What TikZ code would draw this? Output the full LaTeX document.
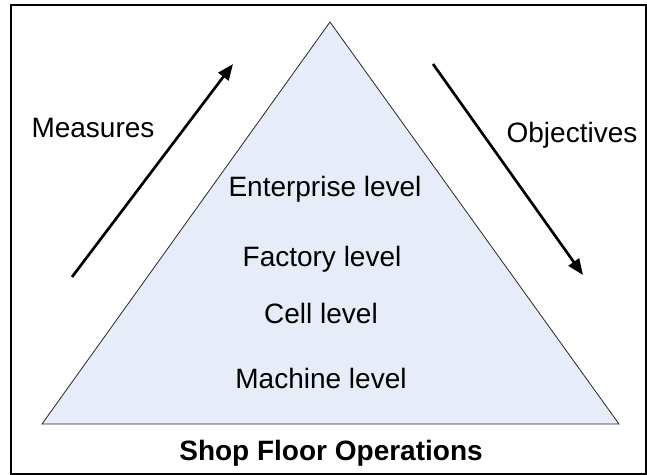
\documentclass[tikz,border=0pt]{standalone}
\usepackage{fontspec}
\setmainfont{Liberation Sans}
\usetikzlibrary{arrows.meta}
\definecolor{pyramidfill}{RGB}{230,237,248}
\begin{document}
\begin{tikzpicture}[x=0.75pt,y=0.75pt,yscale=-1,xscale=1,
    lbl/.style={anchor=base,inner sep=0pt,font=\fontsize{21}{25}\selectfont},
    flow/.style={line width=2pt,-{Triangle[length=12pt,width=9.5pt]}}]
                  \useasboundingbox (0,0) rectangle (647,475);
                  \draw[line width=1pt] (11,5) -- (646,5) -- (646,474) -- (11,474) -- cycle ;
                  \coordinate (apex) at (330,22);
                  \coordinate (baseL) at (42,424);
                  \coordinate (baseR) at (619,424);
                  \draw[fill=pyramidfill,draw=black!85,line width=0.6pt] (apex) -- (baseR) -- (baseL) -- cycle ;

                  \draw (325,196) node[lbl] (enterprise) {Enterprise level};
                  \draw (322,266) node[lbl] (factory) {Factory level};
                  \draw (321,323) node[lbl] (cell) {Cell level};
                  \draw (321,388) node[lbl] (machine) {Machine level};
                  \draw (331,460) node[lbl,font=\fontsize{21}{25}\selectfont\bfseries] (shopfloor) {Shop Floor Operations};

                  \draw (93,137) node[lbl] (measures) {Measures};
                  \draw (572,142) node[lbl] (objectives) {Objectives};

                  \coordinate (upS) at (72,277);
                  \coordinate (upE) at (233,64);
                  \coordinate (downS) at (433,64);
                  \coordinate (downE) at (583,275);
                  \draw[flow] (upS) -- (upE);
                  \draw[flow] (downS) -- (downE);
              \end{tikzpicture}
\end{document}
